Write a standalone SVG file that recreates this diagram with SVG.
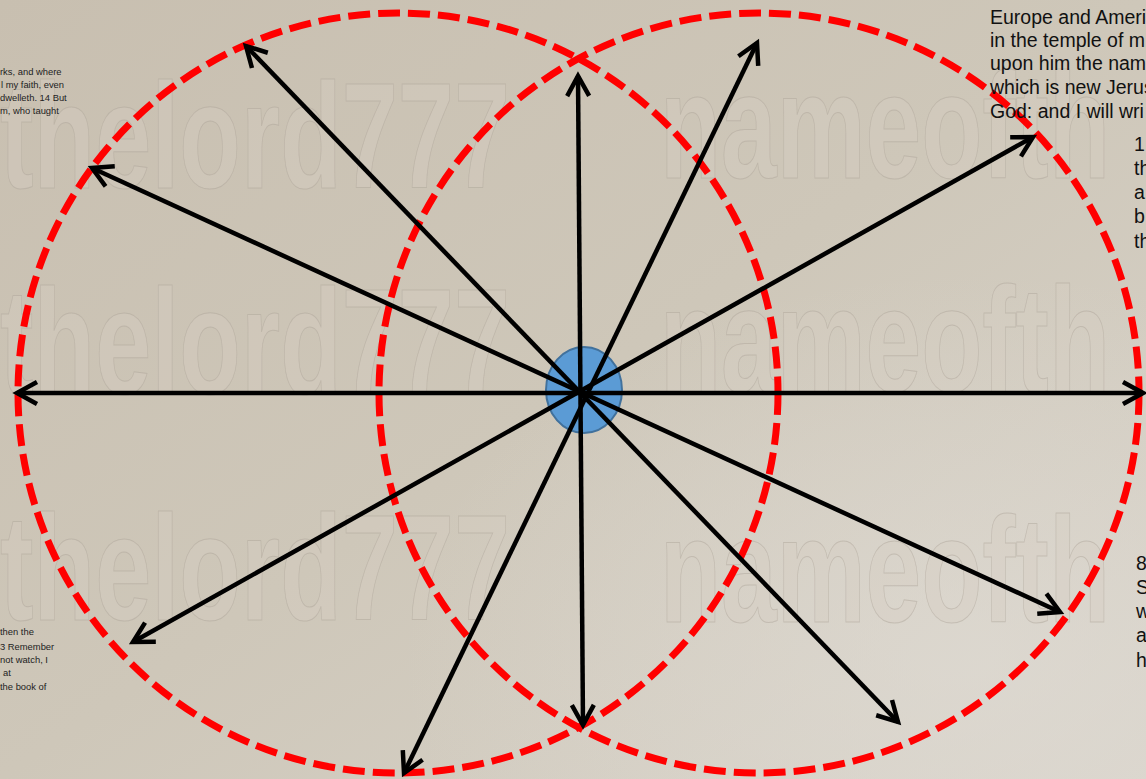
<svg xmlns="http://www.w3.org/2000/svg" width="1146" height="779" viewBox="0 0 1146 779">
<style>
.wm{font-family:"Liberation Sans",Arial,sans-serif;font-size:150px;font-weight:bold;fill:#d6cfc3;fill-opacity:0.35;stroke:#aaa296;stroke-width:1;stroke-opacity:0.45}
.big{font-family:"Liberation Sans",Arial,sans-serif;font-size:19.5px;fill:#111}
.small{font-family:"Liberation Sans",Arial,sans-serif;font-size:9.4px;fill:#222}
.ring{fill:none;stroke:#ff0000;stroke-width:7;stroke-dasharray:22 8}
.arr{stroke:#000;stroke-width:4.5;fill:none;marker-start:url(#ah);marker-end:url(#ah)}
</style>
<defs>
<linearGradient id="bg" x1="0" y1="0" x2="1" y2="1">
<stop offset="0" stop-color="#c8bfb0"/>
<stop offset="0.5" stop-color="#cec7b9"/>
<stop offset="1" stop-color="#d9d4cb"/>
</linearGradient>
<radialGradient id="glow" cx="0.85" cy="0.85" r="0.5">
<stop offset="0" stop-color="#e0dcd5" stop-opacity="0.6"/>
<stop offset="1" stop-color="#e0dcd5" stop-opacity="0"/>
</radialGradient>
<marker id="ah" viewBox="-24 -14 32 28" refX="0" refY="0" markerWidth="32" markerHeight="28" markerUnits="userSpaceOnUse" orient="auto-start-reverse" overflow="visible">
<path d="M-20,-11 L0,0 L-20,11" fill="none" stroke="#000" stroke-width="4.5" stroke-linejoin="miter"/>
</marker>
</defs>
<rect id="background" x="0" y="0" width="1146" height="779" fill="url(#bg)"/>
<rect x="0" y="0" width="1146" height="779" fill="url(#glow)"/>
<g id="watermarks">
<text class="wm" x="0" y="188" textLength="510" lengthAdjust="spacingAndGlyphs">thelord777</text>
<text class="wm" x="660" y="178" textLength="450" lengthAdjust="spacingAndGlyphs">nameofth</text>
<text class="wm" x="0" y="394" textLength="510" lengthAdjust="spacingAndGlyphs">thelord777</text>
<text class="wm" x="660" y="392" textLength="450" lengthAdjust="spacingAndGlyphs">nameofth</text>
<text class="wm" x="0" y="620" textLength="510" lengthAdjust="spacingAndGlyphs">thelord777</text>
<text class="wm" x="660" y="622" textLength="450" lengthAdjust="spacingAndGlyphs">nameofth</text>
</g>
<g id="circle-left"><circle class="ring" cx="398" cy="393" r="380"/></g>
<g id="circle-right"><circle class="ring" cx="759" cy="393" r="380"/></g>
<g id="center-node"><ellipse cx="584" cy="390" rx="38" ry="43" fill="#5b9bd5" stroke="#41719c" stroke-width="2"/></g>
<g id="connectors">
<line class="arr" x1="578" y1="76" x2="583" y2="725"/>
<line class="arr" x1="246" y1="46" x2="898" y2="722"/>
<line class="arr" x1="92" y1="168" x2="1060" y2="612"/>
<line class="arr" x1="133" y1="642" x2="1033" y2="137"/>
<line class="arr" x1="404" y1="773" x2="757" y2="43"/>
<line class="arr" x1="17" y1="393" x2="1143" y2="393"/>
</g>
<g id="text-top-left">
<text class="small" x="0" y="75">rks, and where</text>
<text class="small" x="1" y="88">l my faith, even</text>
<text class="small" x="0" y="101">dwelleth. 14 But</text>
<text class="small" x="0" y="114">m, who taught</text>
</g>
<g id="text-bottom-left">
<text class="small" x="0" y="635">then the</text>
<text class="small" x="0" y="650">3 Remember</text>
<text class="small" x="0" y="663">not watch, I</text>
<text class="small" x="3" y="676">at</text>
<text class="small" x="0" y="690">the book of</text>
</g>
<g id="text-top-right">
<text class="big" x="990" y="24">Europe and Ameri</text>
<text class="big" x="990" y="47">in the temple of m</text>
<text class="big" x="990" y="70">upon him the nam</text>
<text class="big" x="990" y="94">which is new Jerus</text>
<text class="big" x="990" y="118">God: and I will wri</text>
</g>
<g id="text-right-middle">
<text class="big" x="1134" y="151">1</text>
<text class="big" x="1134" y="175">th</text>
<text class="big" x="1134" y="199">a</text>
<text class="big" x="1134" y="223">b</text>
<text class="big" x="1134" y="248">th</text>
</g>
<g id="text-right-bottom">
<text class="big" x="1136" y="570">8</text>
<text class="big" x="1136" y="594">S</text>
<text class="big" x="1136" y="618">w</text>
<text class="big" x="1136" y="642">a</text>
<text class="big" x="1136" y="667">h</text>
</g>
</svg>
